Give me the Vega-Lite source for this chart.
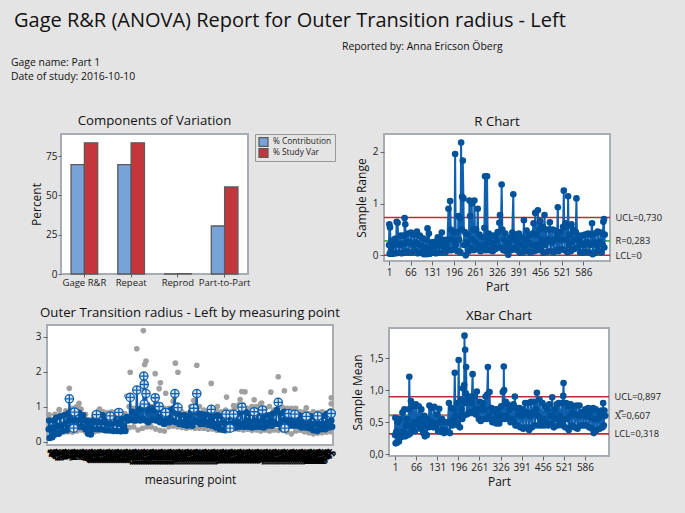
{"$schema":"https://vega.github.io/schema/vega-lite/v6.json","background":"#e4e4e4","padding":{"left":11,"top":10,"right":27,"bottom":26},
"title":{"text":"Gage R&R (ANOVA) Report for Outer Transition radius - Left","fontSize":20,"fontWeight":400,"anchor":"start","frame":"bounds","color":"#111","font":"Open Sans","offset":11,"dx":3},
"config":{"font":"Open Sans","view":{"stroke":null},"title":{"font":"Open Sans","fontWeight":500,"fontSize":13.2,"color":"#111","offset":5},"axis":{"labelFont":"Open Sans","titleFont":"Open Sans","labelColor":"#222","titleColor":"#111","titleFontWeight":500,"labelFontSize":10,"titleFontSize":12,"grid":false,"domain":false,"tickColor":"#666","tickSize":4,"labelOverlap":false}},
"datasets":{
"r":[{"p":1,"v":0.2},{"p":2,"v":0.6},{"p":3,"v":0.03},{"p":4,"v":0.54},{"p":7,"v":0.1},{"p":10,"v":0.28},{"p":13,"v":0.03},{"p":16,"v":0.2},{"p":19,"v":0.32},{"p":22,"v":0.04},{"p":24,"v":0.65},{"p":26,"v":0.22},{"p":27,"v":0.63},{"p":30,"v":0.05},{"p":33,"v":0.2},{"p":36,"v":0.38},{"p":39,"v":0.04},{"p":42,"v":0.22},{"p":45,"v":0.38},{"p":47,"v":0.05},{"p":48,"v":0.72},{"p":50,"v":0.6},{"p":52,"v":0.08},{"p":55,"v":0.25},{"p":58,"v":0.42},{"p":61,"v":0.05},{"p":64,"v":0.25},{"p":67,"v":0.44},{"p":70,"v":0.06},{"p":73,"v":0.2},{"p":76,"v":0.4},{"p":79,"v":0.08},{"p":82,"v":0.24},{"p":85,"v":0.46},{"p":88,"v":0.04},{"p":91,"v":0.2},{"p":94,"v":0.38},{"p":97,"v":0.06},{"p":100,"v":0.18},{"p":103,"v":0.33},{"p":106,"v":0.02},{"p":109,"v":0.15},{"p":112,"v":0.3},{"p":115,"v":0.02},{"p":117,"v":0.52},{"p":119,"v":0.1},{"p":121,"v":0.42},{"p":124,"v":0.03},{"p":127,"v":0.15},{"p":130,"v":0.25},{"p":133,"v":0.05},{"p":136,"v":0.15},{"p":139,"v":0.26},{"p":142,"v":0.04},{"p":145,"v":0.2},{"p":148,"v":0.35},{"p":151,"v":0.05},{"p":154,"v":0.18},{"p":157,"v":0.3},{"p":160,"v":0.44},{"p":162,"v":0.05},{"p":165,"v":0.15},{"p":168,"v":0.3},{"p":171,"v":0.06},{"p":174,"v":0.2},{"p":177,"v":0.3},{"p":180,"v":0.9},{"p":182,"v":0.1},{"p":185,"v":1.05},{"p":187,"v":0.5},{"p":189,"v":0.1},{"p":192,"v":0.3},{"p":195,"v":0.45},{"p":198,"v":0.12},{"p":200,"v":1.96},{"p":202,"v":0.2},{"p":205,"v":0.45},{"p":207,"v":0.08},{"p":210,"v":0.76},{"p":212,"v":0.3},{"p":214,"v":0.72},{"p":216,"v":0.06},{"p":218,"v":2.18},{"p":220,"v":0.5},{"p":221,"v":1.13},{"p":223,"v":1.83},{"p":225,"v":1.1},{"p":227,"v":0.2},{"p":229,"v":0.45},{"p":232,"v":0},{"p":235,"v":0.25},{"p":238,"v":0.4},{"p":241,"v":0.08},{"p":243,"v":1.06},{"p":245,"v":0.76},{"p":247,"v":0.15},{"p":250,"v":1},{"p":252,"v":0.3},{"p":255,"v":0.5},{"p":256,"v":0.1},{"p":258,"v":1.06},{"p":260,"v":0.25},{"p":263,"v":0.5},{"p":265,"v":0.12},{"p":268,"v":0.9},{"p":270,"v":0.2},{"p":273,"v":0.4},{"p":276,"v":0.08},{"p":279,"v":0.2},{"p":282,"v":0.35},{"p":285,"v":0.1},{"p":288,"v":0.53},{"p":290,"v":1.53},{"p":292,"v":0.2},{"p":294,"v":0.1},{"p":296,"v":1.53},{"p":298,"v":0.3},{"p":301,"v":0.42},{"p":304,"v":0.1},{"p":307,"v":0.25},{"p":310,"v":0.38},{"p":313,"v":0.08},{"p":316,"v":0.2},{"p":319,"v":0.38},{"p":322,"v":0.12},{"p":325,"v":0.28},{"p":328,"v":0.45},{"p":331,"v":0.15},{"p":333,"v":0.63},{"p":335,"v":0.78},{"p":337,"v":0.15},{"p":340,"v":1.37},{"p":342,"v":0.5},{"p":345,"v":0.1},{"p":348,"v":0.3},{"p":351,"v":0.42},{"p":354,"v":0.08},{"p":357,"v":0.2},{"p":360,"v":0.01},{"p":363,"v":0.25},{"p":366,"v":0.35},{"p":369,"v":0.1},{"p":372,"v":0.44},{"p":375,"v":1.18},{"p":377,"v":0.15},{"p":380,"v":0.3},{"p":383,"v":0.4},{"p":386,"v":0.1},{"p":389,"v":0.25},{"p":392,"v":0.42},{"p":395,"v":0.05},{"p":398,"v":0.2},{"p":401,"v":0.35},{"p":404,"v":0.06},{"p":407,"v":0.68},{"p":409,"v":0.15},{"p":412,"v":0.3},{"p":415,"v":0.48},{"p":418,"v":0.08},{"p":421,"v":0.25},{"p":424,"v":0.38},{"p":427,"v":0.05},{"p":430,"v":0.2},{"p":433,"v":0.42},{"p":436,"v":0.62},{"p":438,"v":0.08},{"p":441,"v":0.82},{"p":443,"v":0.2},{"p":445,"v":0.4},{"p":447,"v":0.1},{"p":449,"v":0.87},{"p":451,"v":0.2},{"p":454,"v":0.5},{"p":456,"v":0.66},{"p":458,"v":0.1},{"p":461,"v":0.3},{"p":464,"v":0.55},{"p":466,"v":0.05},{"p":469,"v":0.78},{"p":471,"v":0.2},{"p":474,"v":0.5},{"p":477,"v":0.07},{"p":480,"v":0.3},{"p":483,"v":0.5},{"p":485,"v":0.64},{"p":487,"v":0.08},{"p":490,"v":0.25},{"p":493,"v":0.5},{"p":496,"v":0.06},{"p":499,"v":0.3},{"p":502,"v":0.48},{"p":505,"v":0.1},{"p":507,"v":0.4},{"p":509,"v":0.93},{"p":511,"v":0.08},{"p":514,"v":0.3},{"p":517,"v":0.45},{"p":520,"v":0.12},{"p":523,"v":0.3},{"p":525,"v":0.55},{"p":527,"v":1.25},{"p":529,"v":0.1},{"p":532,"v":0.62},{"p":534,"v":0.3},{"p":536,"v":0.55},{"p":538,"v":0.06},{"p":540,"v":1.14},{"p":542,"v":0.2},{"p":545,"v":0.4},{"p":548,"v":0.08},{"p":550,"v":0.6},{"p":552,"v":0.25},{"p":555,"v":0.5},{"p":558,"v":0.12},{"p":561,"v":0.3},{"p":563,"v":0.45},{"p":565,"v":1.1},{"p":567,"v":0.15},{"p":570,"v":0.3},{"p":573,"v":0.38},{"p":576,"v":0.06},{"p":579,"v":0.22},{"p":582,"v":0.38},{"p":585,"v":0.05},{"p":588,"v":0.2},{"p":591,"v":0.4},{"p":594,"v":0.07},{"p":597,"v":0.25},{"p":600,"v":0.42},{"p":603,"v":0.06},{"p":606,"v":0.2},{"p":609,"v":0.4},{"p":612,"v":0.62},{"p":614,"v":0.02},{"p":617,"v":0.25},{"p":620,"v":0.42},{"p":623,"v":0.06},{"p":626,"v":0.2},{"p":629,"v":0.46},{"p":632,"v":0.08},{"p":635,"v":0.25},{"p":638,"v":0.44},{"p":641,"v":0.06},{"p":644,"v":0.2},{"p":646,"v":0.65},{"p":648,"v":0.7},{"p":649,"v":0.15},{"p":650,"v":0.4}],
"x":[{"p":1,"v":0.3},{"p":2,"v":0.57},{"p":3,"v":0.17},{"p":5,"v":0.35},{"p":7,"v":0.18},{"p":9,"v":0.5},{"p":11,"v":0.3},{"p":13,"v":0.2},{"p":16,"v":0.55},{"p":19,"v":0.3},{"p":21,"v":0.27},{"p":24,"v":0.65},{"p":27,"v":0.35},{"p":30,"v":0.7},{"p":33,"v":0.28},{"p":35,"v":0.45},{"p":38,"v":0.55},{"p":41,"v":0.3},{"p":44,"v":0.7},{"p":45,"v":1.21},{"p":47,"v":0.32},{"p":50,"v":0.83},{"p":52,"v":0.45},{"p":54,"v":0.4},{"p":57,"v":0.75},{"p":60,"v":0.5},{"p":62,"v":0.36},{"p":65,"v":0.78},{"p":68,"v":0.5},{"p":71,"v":0.45},{"p":74,"v":0.75},{"p":77,"v":0.55},{"p":79,"v":0.4},{"p":82,"v":0.7},{"p":85,"v":0.5},{"p":88,"v":0.33},{"p":91,"v":0.6},{"p":93,"v":0.28},{"p":96,"v":0.45},{"p":99,"v":0.3},{"p":101,"v":0.55},{"p":104,"v":0.42},{"p":107,"v":0.76},{"p":110,"v":0.45},{"p":113,"v":0.72},{"p":116,"v":0.5},{"p":119,"v":0.42},{"p":122,"v":0.74},{"p":125,"v":0.48},{"p":128,"v":0.42},{"p":131,"v":0.62},{"p":134,"v":0.36},{"p":137,"v":0.71},{"p":140,"v":0.5},{"p":143,"v":0.35},{"p":146,"v":0.55},{"p":149,"v":0.38},{"p":152,"v":0.33},{"p":155,"v":0.5},{"p":158,"v":0.35},{"p":161,"v":0.36},{"p":164,"v":0.5},{"p":167,"v":0.8},{"p":170,"v":0.33},{"p":172,"v":0.5},{"p":175,"v":0.72},{"p":178,"v":0.45},{"p":181,"v":0.55},{"p":183,"v":0.7},{"p":185,"v":1.27},{"p":187,"v":0.6},{"p":190,"v":0.48},{"p":193,"v":0.8},{"p":195,"v":0.45},{"p":197,"v":1.47},{"p":199,"v":0.6},{"p":201,"v":0.42},{"p":204,"v":0.85},{"p":206,"v":0.7},{"p":208,"v":0.55},{"p":210,"v":1.03},{"p":212,"v":0.6},{"p":214,"v":1.08},{"p":215,"v":1.85},{"p":216,"v":0.8},{"p":217,"v":1.63},{"p":219,"v":0.95},{"p":220,"v":1.36},{"p":222,"v":0.62},{"p":225,"v":0.85},{"p":228,"v":0.65},{"p":231,"v":0.9},{"p":234,"v":0.65},{"p":237,"v":0.8},{"p":240,"v":1.25},{"p":242,"v":0.65},{"p":245,"v":0.9},{"p":248,"v":0.7},{"p":250,"v":0.62},{"p":253,"v":0.98},{"p":256,"v":0.7},{"p":259,"v":0.55},{"p":262,"v":0.82},{"p":265,"v":0.52},{"p":268,"v":0.7},{"p":271,"v":0.8},{"p":274,"v":0.55},{"p":277,"v":0.7},{"p":280,"v":0.9},{"p":283,"v":0.55},{"p":285,"v":0.93},{"p":287,"v":1.36},{"p":289,"v":0.6},{"p":292,"v":0.97},{"p":295,"v":0.55},{"p":298,"v":0.72},{"p":301,"v":0.5},{"p":304,"v":0.68},{"p":307,"v":0.55},{"p":310,"v":0.7},{"p":313,"v":0.48},{"p":316,"v":0.6},{"p":319,"v":0.7},{"p":322,"v":0.48},{"p":325,"v":0.6},{"p":328,"v":0.75},{"p":331,"v":0.55},{"p":333,"v":0.97},{"p":335,"v":0.6},{"p":336,"v":1.37},{"p":337,"v":1},{"p":339,"v":0.55},{"p":342,"v":0.82},{"p":345,"v":0.6},{"p":348,"v":0.78},{"p":351,"v":0.55},{"p":354,"v":0.7},{"p":357,"v":0.5},{"p":360,"v":0.75},{"p":363,"v":0.55},{"p":366,"v":0.78},{"p":368,"v":0.5},{"p":370,"v":0.9},{"p":372,"v":0.45},{"p":375,"v":0.72},{"p":378,"v":0.45},{"p":381,"v":0.62},{"p":384,"v":0.72},{"p":387,"v":0.42},{"p":390,"v":0.6},{"p":393,"v":0.7},{"p":396,"v":0.4},{"p":399,"v":0.62},{"p":402,"v":0.8},{"p":405,"v":0.42},{"p":408,"v":0.65},{"p":411,"v":0.8},{"p":414,"v":0.38},{"p":417,"v":0.6},{"p":420,"v":0.82},{"p":423,"v":0.42},{"p":426,"v":0.65},{"p":429,"v":0.82},{"p":432,"v":0.45},{"p":435,"v":0.7},{"p":438,"v":0.96},{"p":440,"v":0.6},{"p":443,"v":0.45},{"p":446,"v":0.85},{"p":449,"v":0.55},{"p":452,"v":0.45},{"p":455,"v":0.8},{"p":458,"v":0.55},{"p":461,"v":0.45},{"p":464,"v":0.75},{"p":467,"v":0.5},{"p":470,"v":0.7},{"p":473,"v":0.45},{"p":476,"v":0.78},{"p":479,"v":0.6},{"p":482,"v":0.48},{"p":485,"v":0.89},{"p":487,"v":0.6},{"p":490,"v":0.42},{"p":493,"v":0.7},{"p":496,"v":0.55},{"p":499,"v":0.78},{"p":502,"v":0.45},{"p":505,"v":0.8},{"p":508,"v":0.6},{"p":511,"v":0.5},{"p":514,"v":0.8},{"p":517,"v":0.45},{"p":519,"v":0.91},{"p":520,"v":1.11},{"p":522,"v":0.55},{"p":525,"v":0.42},{"p":528,"v":0.8},{"p":531,"v":0.55},{"p":534,"v":0.75},{"p":536,"v":0.38},{"p":539,"v":0.6},{"p":542,"v":0.78},{"p":545,"v":0.45},{"p":548,"v":0.65},{"p":551,"v":0.75},{"p":554,"v":0.42},{"p":557,"v":0.62},{"p":560,"v":0.76},{"p":563,"v":0.4},{"p":566,"v":0.6},{"p":569,"v":0.76},{"p":572,"v":0.45},{"p":575,"v":0.62},{"p":578,"v":0.66},{"p":581,"v":0.45},{"p":584,"v":0.6},{"p":587,"v":0.7},{"p":590,"v":0.45},{"p":593,"v":0.62},{"p":596,"v":0.72},{"p":599,"v":0.42},{"p":602,"v":0.58},{"p":605,"v":0.68},{"p":608,"v":0.4},{"p":611,"v":0.72},{"p":613,"v":0.33},{"p":616,"v":0.55},{"p":619,"v":0.7},{"p":622,"v":0.38},{"p":625,"v":0.55},{"p":628,"v":0.66},{"p":631,"v":0.4},{"p":634,"v":0.6},{"p":637,"v":0.68},{"p":640,"v":0.42},{"p":642,"v":0.8},{"p":644,"v":0.45},{"p":646,"v":0.68},{"p":648,"v":0.6}],
"m":[{"p":1,"v":0.35},{"p":2,"v":0.6},{"p":3,"v":0.1},{"p":6,"v":0.4},{"p":9,"v":0.12},{"p":11,"v":0.6},{"p":13,"v":0.35},{"p":15,"v":0.2},{"p":18,"v":0.68},{"p":21,"v":0.45},{"p":24,"v":0.22},{"p":27,"v":0.72},{"p":30,"v":0.45},{"p":33,"v":0.3},{"p":36,"v":0.75},{"p":39,"v":0.5},{"p":42,"v":0.32},{"p":45,"v":0.8},{"p":47,"v":0.6},{"p":48,"v":1.22},{"p":50,"v":0.4},{"p":53,"v":0.85},{"p":56,"v":0.6},{"p":58,"v":0.35},{"p":61,"v":0.82},{"p":64,"v":0.6},{"p":67,"v":0.42},{"p":70,"v":0.82},{"p":73,"v":0.6},{"p":76,"v":0.42},{"p":79,"v":0.75},{"p":82,"v":0.6},{"p":85,"v":0.35},{"p":88,"v":0.6},{"p":91,"v":0.22},{"p":94,"v":0.45},{"p":97,"v":0.2},{"p":100,"v":0.58},{"p":103,"v":0.35},{"p":106,"v":0.72},{"p":109,"v":0.55},{"p":112,"v":0.35},{"p":115,"v":0.78},{"p":118,"v":0.55},{"p":121,"v":0.35},{"p":124,"v":0.75},{"p":127,"v":0.55},{"p":130,"v":0.32},{"p":133,"v":0.7},{"p":136,"v":0.5},{"p":139,"v":0.32},{"p":142,"v":0.72},{"p":145,"v":0.5},{"p":148,"v":0.3},{"p":151,"v":0.72},{"p":154,"v":0.55},{"p":157,"v":0.3},{"p":161,"v":0.82},{"p":164,"v":0.5},{"p":167,"v":0.3},{"p":170,"v":0.65},{"p":173,"v":0.45},{"p":176,"v":0.3},{"p":179,"v":0.7},{"p":182,"v":0.6},{"p":185,"v":0.62},{"p":187,"v":1.26},{"p":189,"v":0.62},{"p":192,"v":0.85},{"p":195,"v":0.6},{"p":198,"v":0.8},{"p":200,"v":0.6},{"p":202,"v":1.47},{"p":204,"v":0.65},{"p":207,"v":0.9},{"p":210,"v":0.6},{"p":213,"v":0.95},{"p":216,"v":0.65},{"p":218,"v":1.87},{"p":219,"v":1.63},{"p":220,"v":1.07},{"p":222,"v":0.6},{"p":223,"v":1.37},{"p":225,"v":1.05},{"p":228,"v":0.55},{"p":231,"v":0.9},{"p":234,"v":0.6},{"p":237,"v":0.95},{"p":240,"v":0.65},{"p":242,"v":0.9},{"p":244,"v":1.25},{"p":246,"v":0.6},{"p":249,"v":1},{"p":252,"v":0.7},{"p":255,"v":0.55},{"p":258,"v":0.9},{"p":261,"v":0.6},{"p":264,"v":0.5},{"p":268,"v":0.82},{"p":271,"v":0.55},{"p":274,"v":0.75},{"p":277,"v":0.55},{"p":280,"v":0.9},{"p":283,"v":0.6},{"p":286,"v":0.95},{"p":289,"v":1.37},{"p":291,"v":0.55},{"p":293,"v":0.8},{"p":296,"v":0.97},{"p":299,"v":0.5},{"p":302,"v":0.75},{"p":305,"v":0.55},{"p":308,"v":0.48},{"p":311,"v":0.75},{"p":314,"v":0.55},{"p":317,"v":0.45},{"p":320,"v":0.72},{"p":323,"v":0.5},{"p":326,"v":0.85},{"p":329,"v":0.45},{"p":332,"v":0.95},{"p":335,"v":0.6},{"p":337,"v":0.95},{"p":339,"v":1.37},{"p":341,"v":0.55},{"p":344,"v":0.8},{"p":347,"v":0.5},{"p":350,"v":0.78},{"p":353,"v":0.6},{"p":356,"v":0.5},{"p":359,"v":0.76},{"p":362,"v":0.55},{"p":365,"v":0.48},{"p":368,"v":0.78},{"p":370,"v":0.6},{"p":372,"v":0.92},{"p":374,"v":0.45},{"p":377,"v":0.72},{"p":380,"v":0.5},{"p":383,"v":0.4},{"p":386,"v":0.75},{"p":389,"v":0.5},{"p":392,"v":0.35},{"p":395,"v":0.72},{"p":398,"v":0.55},{"p":401,"v":0.33},{"p":404,"v":0.78},{"p":407,"v":0.5},{"p":410,"v":0.35},{"p":413,"v":0.7},{"p":416,"v":0.5},{"p":419,"v":0.4},{"p":422,"v":0.8},{"p":425,"v":0.55},{"p":428,"v":0.4},{"p":431,"v":0.78},{"p":434,"v":0.55},{"p":437,"v":0.42},{"p":440,"v":0.85},{"p":442,"v":0.98},{"p":444,"v":0.5},{"p":447,"v":0.42},{"p":450,"v":0.85},{"p":453,"v":0.6},{"p":456,"v":0.42},{"p":459,"v":0.8},{"p":462,"v":0.55},{"p":465,"v":0.4},{"p":468,"v":0.85},{"p":471,"v":0.6},{"p":474,"v":0.42},{"p":477,"v":0.8},{"p":480,"v":0.55},{"p":483,"v":0.42},{"p":486,"v":0.9},{"p":489,"v":0.6},{"p":492,"v":0.4},{"p":495,"v":0.75},{"p":498,"v":0.55},{"p":501,"v":0.45},{"p":504,"v":0.75},{"p":507,"v":0.6},{"p":510,"v":0.45},{"p":513,"v":0.8},{"p":516,"v":0.55},{"p":519,"v":0.5},{"p":522,"v":0.9},{"p":525,"v":1.12},{"p":527,"v":0.5},{"p":530,"v":0.8},{"p":533,"v":0.38},{"p":536,"v":0.6},{"p":539,"v":0.85},{"p":542,"v":0.35},{"p":545,"v":0.6},{"p":548,"v":0.82},{"p":551,"v":0.45},{"p":554,"v":0.6},{"p":557,"v":0.8},{"p":560,"v":0.45},{"p":563,"v":0.8},{"p":566,"v":0.6},{"p":569,"v":0.45},{"p":572,"v":0.75},{"p":575,"v":0.55},{"p":578,"v":0.4},{"p":581,"v":0.72},{"p":584,"v":0.55},{"p":587,"v":0.4},{"p":590,"v":0.75},{"p":593,"v":0.55},{"p":596,"v":0.38},{"p":599,"v":0.72},{"p":602,"v":0.5},{"p":605,"v":0.32},{"p":608,"v":0.7},{"p":611,"v":0.5},{"p":614,"v":0.3},{"p":617,"v":0.7},{"p":620,"v":0.5},{"p":623,"v":0.35},{"p":626,"v":0.72},{"p":629,"v":0.5},{"p":632,"v":0.35},{"p":635,"v":0.78},{"p":638,"v":0.55},{"p":641,"v":0.4},{"p":644,"v":0.85},{"p":646,"v":0.6},{"p":648,"v":0.42}],
"g":[{"p":217,"v":3.17},{"p":202,"v":2.65},{"p":223,"v":2.3},{"p":220,"v":2.2},{"p":187,"v":1.98},{"p":244,"v":1.94},{"p":256,"v":1.68},{"p":253,"v":1.51},{"p":268,"v":1.38},{"p":290,"v":2.24},{"p":296,"v":1.98},{"p":339,"v":2.18},{"p":372,"v":1.66},{"p":407,"v":1.27},{"p":48,"v":1.52},{"p":442,"v":1.43},{"p":449,"v":1.42},{"p":438,"v":1.2},{"p":470,"v":1.19},{"p":423,"v":1.03},{"p":508,"v":1.41},{"p":525,"v":1.85},{"p":539,"v":1.45},{"p":563,"v":1.5},{"p":589,"v":0.96},{"p":646,"v":1.25},{"p":646,"v":1.08},{"p":25,"v":0.91},{"p":70,"v":1.09},{"p":70,"v":0.95},{"p":117,"v":0.93},{"p":179,"v":1.3},{"p":185,"v":1},{"p":288,"v":1.26},{"p":332,"v":1.17},{"p":386,"v":1},{"p":487,"v":1.1},{"p":5,"v":0.12},{"p":15,"v":0.2},{"p":25,"v":0.25},{"p":35,"v":0.27},{"p":45,"v":0.28},{"p":55,"v":0.27},{"p":65,"v":0.3},{"p":75,"v":0.33},{"p":85,"v":0.28},{"p":94,"v":0.24},{"p":105,"v":0.28},{"p":115,"v":0.3},{"p":125,"v":0.32},{"p":135,"v":0.3},{"p":145,"v":0.3},{"p":155,"v":0.3},{"p":165,"v":0.27},{"p":175,"v":0.3},{"p":185,"v":0.4},{"p":195,"v":0.42},{"p":205,"v":0.33},{"p":215,"v":0.38},{"p":225,"v":0.42},{"p":235,"v":0.42},{"p":245,"v":0.36},{"p":255,"v":0.32},{"p":265,"v":0.3},{"p":275,"v":0.42},{"p":285,"v":0.44},{"p":295,"v":0.42},{"p":305,"v":0.4},{"p":315,"v":0.38},{"p":325,"v":0.4},{"p":335,"v":0.38},{"p":345,"v":0.38},{"p":355,"v":0.38},{"p":365,"v":0.35},{"p":375,"v":0.36},{"p":385,"v":0.32},{"p":395,"v":0.32},{"p":405,"v":0.3},{"p":415,"v":0.34},{"p":425,"v":0.36},{"p":435,"v":0.35},{"p":445,"v":0.33},{"p":455,"v":0.35},{"p":465,"v":0.32},{"p":475,"v":0.33},{"p":485,"v":0.3},{"p":495,"v":0.33},{"p":505,"v":0.3},{"p":515,"v":0.33},{"p":525,"v":0.32},{"p":535,"v":0.32},{"p":545,"v":0.28},{"p":555,"v":0.22},{"p":565,"v":0.3},{"p":575,"v":0.32},{"p":585,"v":0.28},{"p":595,"v":0.25},{"p":605,"v":0.22},{"p":615,"v":0.24},{"p":625,"v":0.25},{"p":635,"v":0.27},{"p":645,"v":0.28},{"p":2,"v":0.76},{"p":15,"v":0.78},{"p":25,"v":0.9},{"p":40,"v":0.88},{"p":55,"v":0.95},{"p":65,"v":1},{"p":75,"v":0.92},{"p":85,"v":0.78},{"p":95,"v":0.62},{"p":105,"v":0.8},{"p":115,"v":0.88},{"p":125,"v":0.85},{"p":135,"v":0.82},{"p":145,"v":0.85},{"p":155,"v":0.85},{"p":165,"v":0.85},{"p":175,"v":0.8},{"p":185,"v":1},{"p":195,"v":0.95},{"p":205,"v":0.95},{"p":215,"v":1.05},{"p":225,"v":1.05},{"p":235,"v":1},{"p":245,"v":1.1},{"p":255,"v":1.05},{"p":265,"v":0.95},{"p":275,"v":0.95},{"p":285,"v":1.15},{"p":295,"v":1.05},{"p":305,"v":0.85},{"p":315,"v":0.8},{"p":325,"v":1},{"p":335,"v":1.15},{"p":345,"v":1},{"p":355,"v":0.9},{"p":365,"v":0.85},{"p":375,"v":0.95},{"p":385,"v":0.85},{"p":395,"v":0.85},{"p":405,"v":0.9},{"p":415,"v":0.85},{"p":425,"v":0.95},{"p":435,"v":1.05},{"p":445,"v":1.05},{"p":455,"v":0.95},{"p":465,"v":1},{"p":475,"v":1},{"p":485,"v":1.08},{"p":495,"v":0.95},{"p":505,"v":1},{"p":515,"v":0.9},{"p":525,"v":1.05},{"p":535,"v":0.98},{"p":545,"v":0.95},{"p":555,"v":0.95},{"p":565,"v":0.95},{"p":575,"v":0.85},{"p":585,"v":0.85},{"p":595,"v":0.8},{"p":605,"v":0.85},{"p":615,"v":0.82},{"p":625,"v":0.85},{"p":635,"v":0.82},{"p":645,"v":0.88}],
"h":[{"p":48,"v":1.22},{"p":58,"v":0.38},{"p":60,"v":0.84},{"p":110,"v":0.77},{"p":141,"v":0.73},{"p":161,"v":0.83},{"p":187,"v":1.26},{"p":202,"v":1.47},{"p":218,"v":1.87},{"p":219,"v":1.63},{"p":223,"v":1.37},{"p":219,"v":1.07},{"p":244,"v":1.25},{"p":253,"v":1},{"p":268,"v":0.83},{"p":289,"v":1.37},{"p":296,"v":0.97},{"p":339,"v":1.37},{"p":332,"v":0.95},{"p":372,"v":0.92},{"p":406,"v":0.78},{"p":423,"v":0.78},{"p":442,"v":0.98},{"p":470,"v":0.85},{"p":489,"v":0.9},{"p":525,"v":1.12},{"p":540,"v":0.38},{"p":549,"v":0.8},{"p":563,"v":0.78},{"p":589,"v":0.72},{"p":615,"v":0.73},{"p":646,"v":0.8},{"p":415,"v":0.38}]
},
"spacing":18,"align":"none","resolve":{"scale":{"color":"independent"},"legend":{"color":"independent"}},
"vconcat":[
{"spacing":0,"align":"none","hconcat":[
{"width":331,"height":1,"data":{"values":[]},"mark":"text","encoding":{},"title":{"text":["Gage name: Part 1","Date of study: 2016-10-10"],"fontSize":10.4,"fontWeight":500,"anchor":"start","frame":"group","lineHeight":14,"offset":12}},
{"width":200,"height":1,"data":{"values":[]},"mark":"text","encoding":{},"title":{"text":"Reported by: Anna Ericson Öberg","fontSize":10.4,"fontWeight":500,"anchor":"start","frame":"group","offset":42}}
]},
{"spacing":7,"align":"none","resolve":{"scale":{"color":"independent"},"legend":{"color":"independent"}},"hconcat":[
{"width":10,"height":1,"data":{"values":[]},"mark":"text","encoding":{}},
{"spacing":16,"align":"none","resolve":{"scale":{"color":"independent"},"legend":{"color":"independent"}},"vconcat":[
{"spacing":0,"align":"none","resolve":{"scale":{"color":"independent"},"legend":{"color":"independent"}},"hconcat":[{"width":1,"height":1,"data":{"values":[]},"mark":"text","encoding":{}},
{"width":187,"height":140,"view":{"fill":"#fff","stroke":"#a8adb5","strokeWidth":2},"title":"Components of Variation",
"data":{"values":[{"c":"Gage R&R","s":"% Contribution","v":69.5},{"c":"Gage R&R","s":"% Study Var","v":83.4},{"c":"Repeat","s":"% Contribution","v":69.5},{"c":"Repeat","s":"% Study Var","v":83.4},{"c":"Reprod","s":"% Contribution","v":0.1},{"c":"Reprod","s":"% Study Var","v":0.2},{"c":"Part-to-Part","s":"% Contribution","v":30.5},{"c":"Part-to-Part","s":"% Study Var","v":55.3}]},
"mark":{"type":"bar","stroke":"#5a5a5a","strokeWidth":1.3},
"encoding":{"x":{"field":"c","type":"nominal","sort":null,"title":null,"scale":{"paddingInner":0.43,"paddingOuter":0.215},"axis":{"labelAngle":0,"labelPadding":0,"tickSize":3,"labelFontSize":9.5,"labelOverlap":false}},
"xOffset":{"field":"s","type":"nominal"},
"y":{"field":"v","type":"quantitative","title":"Percent","scale":{"domain":[0,89],"nice":false},"axis":{"values":[0,25,50,75],"titlePadding":2,"titleFontSize":12,"tickSize":3,"labelPadding":1}},
"color":{"field":"s","type":"nominal","scale":{"domain":["% Contribution","% Study Var"],"range":["#77a3da","#c4363c"]},"legend":{"orient":"right","title":null,"offset":7,"symbolType":"square","symbolSize":80,"symbolStrokeColor":"#5a5a5a","symbolStrokeWidth":1.3,"labelFontSize":8.3,"labelColor":"#222","strokeColor":"#999","padding":3,"rowPadding":1,"clipHeight":10,"labelOffset":4}}}}
]},
{"spacing":5,"align":"none","hconcat":[{"width":1,"height":1,"data":{"values":[]},"mark":"text","encoding":{}},
{"width":286,"height":120,"view":{"fill":"#fff","stroke":"#a8adb5","strokeWidth":2},"title":"Outer Transition radius - Left by measuring point",
"encoding":{"x":{"field":"p","type":"quantitative","title":"measuring point","scale":{"domain":[-3,650],"nice":false},"axis":{"values":[1,5,9,13,17,21,25,29,33,37,41,45,49,53,57,61,65,69,73,77,81,85,89,93,97,101,105,109,113,117,121,125,129,133,137,141,145,149,153,157,161,165,169,173,177,181,185,189,193,197,201,205,209,213,217,221,225,229,233,237,241,245,249,253,257,261,265,269,273,277,281,285,289,293,297,301,305,309,313,317,321,325,329,333,337,341,345,349,353,357,361,365,369,373,377,381,385,389,393,397,401,405,409,413,417,421,425,429,433,437,441,445,449,453,457,461,465,469,473,477,481,485,489,493,497,501,505,509,513,517,521,525,529,533,537,541,545,549,553,557,561,565,569,573,577,581,585,589,593,597,601,605,609,613,617,621,625,629,633,637,641,645],"labelAngle":315,"labelFontSize":10,"labelFontWeight":700,"labelColor":"#000","labelOverlap":false,"ticks":false,"labelPadding":2,"labelBound":false,"labelFlush":false,"titlePadding":8,"titleFontSize":12}},"y":{"field":"v","type":"quantitative","title":null,"scale":{"domain":[-0.1,3.33],"nice":false},"axis":{"values":[0,1,2,3],"labelOverlap":false}}},
"layer":[
{"data":{"name":"g"},"mark":{"type":"circle","color":"#a0a0a0","size":32,"opacity":1}},
{"data":{"name":"m"},"mark":{"type":"line","color":"#0a5cab","strokeWidth":2}},
{"data":{"name":"m"},"mark":{"type":"circle","color":"#00529b","size":44,"opacity":1}},
{"data":{"name":"h"},"mark":{"type":"point","shape":"M-1,0A1,1,0,1,1,1,0A1,1,0,1,1,-1,0ZM-1,0L1,0M0,-1L0,1","fill":"#d9e6f2","stroke":"#1060b0","strokeWidth":1.3,"size":70,"opacity":1}}
]}
]}
]},
{"spacing":14,"align":"none","vconcat":[
{"spacing":5,"align":"none","hconcat":[{"width":1,"height":1,"data":{"values":[]},"mark":"text","encoding":{}},
{"width":226,"height":127,"view":{"fill":"#fff","stroke":"#a8adb5","strokeWidth":2},"title":"R Chart","resolve":{"scale":{"y":"independent"}},
"layer":[
{"data":{"values":[{"v":0.73},{"v":0.283},{"v":0}]},"mark":{"type":"rule","strokeWidth":1.6,"color":"#b82f33"},"encoding":{"y":{"field":"v","type":"quantitative","scale":{"domain":[-0.11,2.346],"nice":false},"axis":{"orient":"right","title":null,"values":[0,0.283,0.73],"ticks":false,"labelPadding":5,"labelFontSize":9.3,"labelOverlap":false,"labelExpr":"datum.value==0.73?'UCL=0,730':datum.value==0.283?'R̄=0,283':'LCL=0'"}}}},
{"data":{"values":[{"v":0.283}]},"mark":{"type":"rule","strokeWidth":1.4,"color":"#3cb34a"},"encoding":{"y":{"field":"v","type":"quantitative","axis":null,"scale":{"domain":[-0.11,2.346],"nice":false}}}},
{"data":{"name":"r"},"encoding":{"x":{"field":"p","type":"quantitative","title":"Part","scale":{"domain":[-14,666],"nice":false},"axis":{"values":[1,66,131,196,261,326,391,456,521,586],"labelOverlap":false,"labelPadding":2,"titleFontSize":12,"titlePadding":4}},"y":{"field":"v","type":"quantitative","title":"Sample Range","scale":{"domain":[-0.11,2.346],"nice":false},"axis":{"values":[0,1,2],"labelOverlap":false}}},
"layer":[{"mark":{"type":"line","color":"#0f60ae","strokeWidth":2}},{"mark":{"type":"circle","color":"#00529b","size":44,"opacity":1}}]}
]}
]},
{"spacing":1,"align":"none","hconcat":[{"width":1,"height":1,"data":{"values":[]},"mark":"text","encoding":{}},
{"width":220,"height":128,"view":{"fill":"#fff","stroke":"#a8adb5","strokeWidth":2},"title":"XBar Chart","resolve":{"scale":{"y":"independent"}},
"layer":[
{"data":{"values":[{"v":0.897},{"v":0.607},{"v":0.318}]},"mark":{"type":"rule","strokeWidth":1.6,"color":"#b82f33"},"encoding":{"y":{"field":"v","type":"quantitative","scale":{"domain":[-0.027,1.97],"nice":false},"axis":{"orient":"right","title":null,"values":[0.318,0.607,0.897],"ticks":false,"labelPadding":5,"labelFontSize":9.3,"labelOverlap":false,"labelExpr":"datum.value==0.897?'UCL=0,897':datum.value==0.607?'X̿=0,607':'LCL=0,318'"}}}},
{"data":{"values":[{"v":0.607}]},"mark":{"type":"rule","strokeWidth":1.4,"color":"#3cb34a"},"encoding":{"y":{"field":"v","type":"quantitative","axis":null,"scale":{"domain":[-0.027,1.97],"nice":false}}}},
{"data":{"name":"x"},"encoding":{"x":{"field":"p","type":"quantitative","title":"Part","scale":{"domain":[-17.5,660],"nice":false},"axis":{"values":[1,66,131,196,261,326,391,456,521,586],"labelOverlap":false,"labelPadding":2,"titleFontSize":12,"titlePadding":4}},"y":{"field":"v","type":"quantitative","title":"Sample Mean","scale":{"domain":[-0.027,1.97],"nice":false},"axis":{"values":[0,0.5,1,1.5],"labelOverlap":false,"format":".1f","labelExpr":"replace(datum.label,'.',',')"}}},
"layer":[{"mark":{"type":"line","color":"#0f60ae","strokeWidth":2}},{"mark":{"type":"circle","color":"#00529b","size":44,"opacity":1}}]}
]}
]}
]}
]}
]}
